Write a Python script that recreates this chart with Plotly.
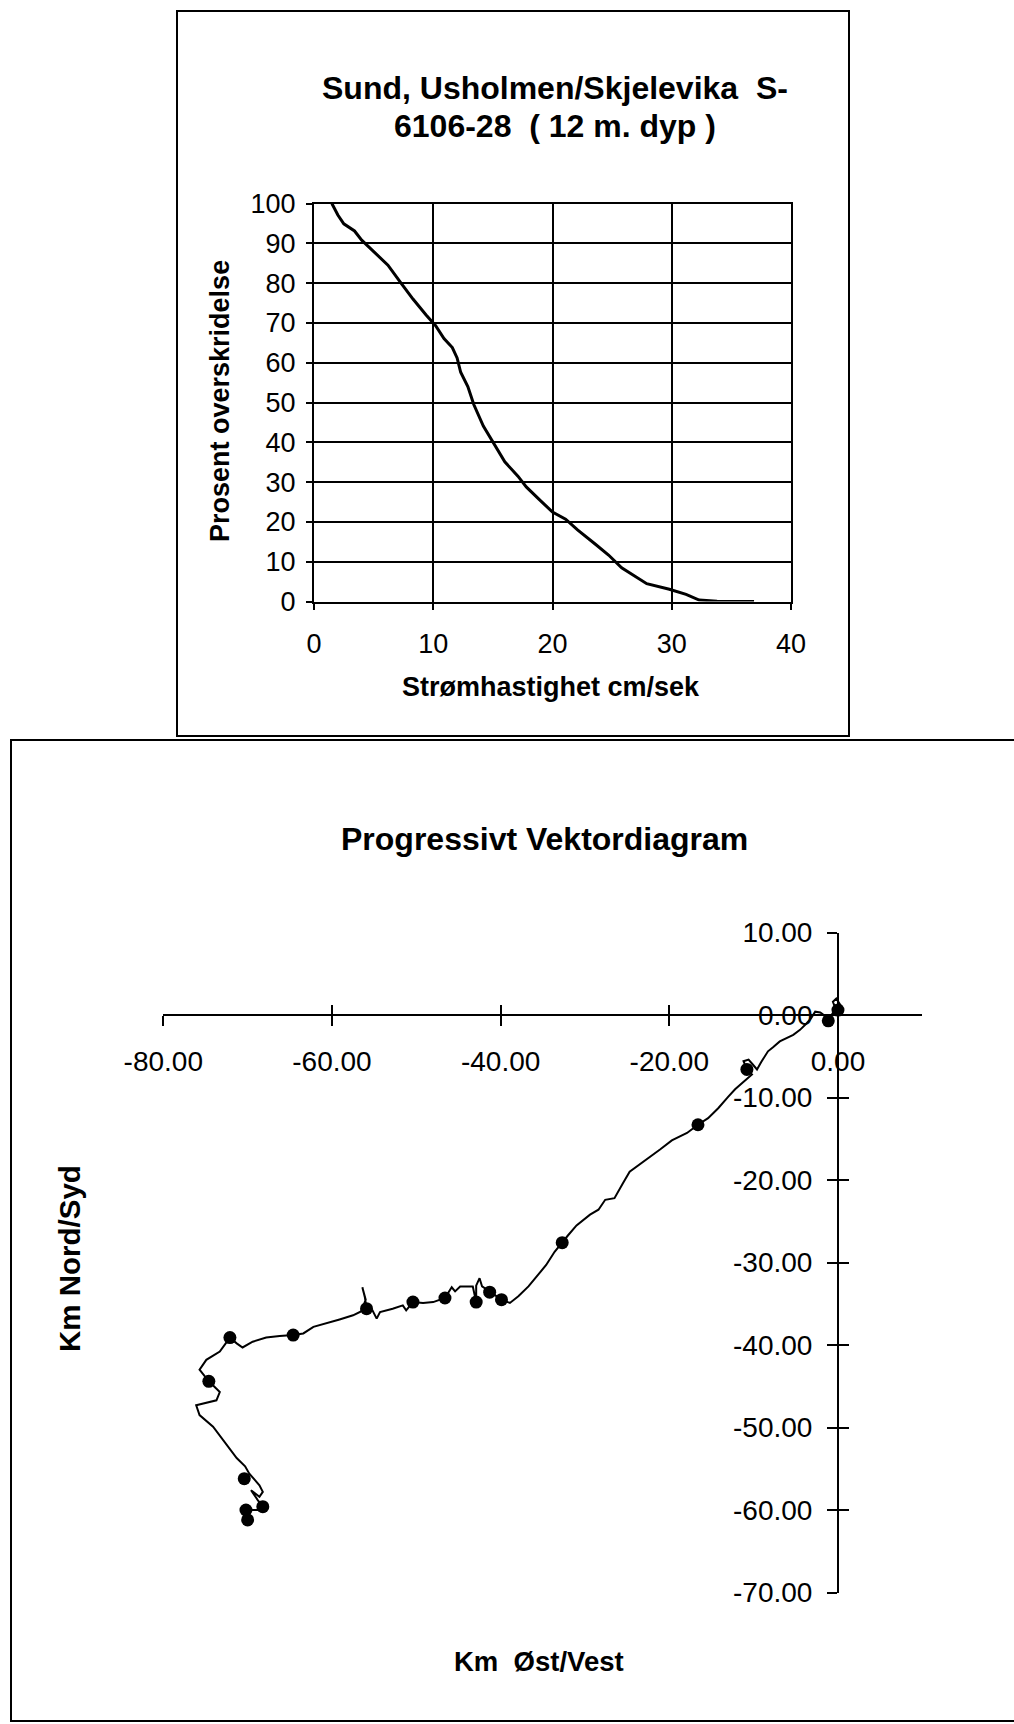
import plotly.graph_objects as go

# --- Exceedance curve: current speed vs. percent of time exceeded ---
speed_cm_s = [1.5, 2.0, 2.5, 3.4, 4.0, 5.1, 6.2, 7.3, 8.3, 9.4, 10.2, 10.9, 11.6, 12.0,
              12.3, 12.9, 13.4, 14.2, 14.9, 16.0, 17.1, 17.8, 18.9, 20.0, 21.1, 22.1,
              23.6, 24.7, 25.8, 26.9, 27.9, 29.8, 31.2, 32.3, 33.8, 36.9]
exceedance_pct = [100, 97.1, 94.9, 93.1, 90.8, 87.7, 84.5, 80.0, 76.0, 72.0, 69.3, 66.1,
                  63.8, 61.2, 57.6, 54.0, 49.5, 44.1, 40.5, 35.1, 31.5, 28.8, 25.6, 22.5,
                  20.7, 18.0, 14.4, 11.7, 8.5, 6.3, 4.5, 3.1, 1.8, 0.4, 0.1, 0.0]
speed_ticks = [0, 10, 20, 30, 40]
pct_ticks = [0, 10, 20, 30, 40, 50, 60, 70, 80, 90, 100]

# --- Progressive vector diagram (km east/west, km north/south) ---
pvd_east_km = [0.0, 0.3, -0.2, -0.6, -0.3, -1.1, -1.8, -2.1, -2.7, -3.2, -3.7, -4.5, -5.3,
               -6.1, -6.9, -7.7, -8.3, -9.1, -9.6, -10.1, -10.6, -11.2, -10.8, -10.2,
               -11.6, -12.2, -13.0, -14.2, -15.4, -16.6, -17.9, -19.7, -21.1, -23.1,
               -24.7, -25.5, -26.5, -27.6, -28.4, -29.4, -31.0, -32.0, -32.7, -33.6,
               -34.6, -35.7, -36.7, -37.9, -38.9, -39.9, -40.6, -41.3, -42.2, -42.5,
               -42.9, -42.9, -43.3, -43.9, -44.8, -45.4, -45.8, -46.6, -48.0, -49.2,
               -50.4, -51.2, -51.6, -52.8, -54.3, -54.7, -55.2, -55.9, -56.1, -56.4,
               -56.0, -56.5, -57.5, -59.1, -60.7, -62.2, -63.4, -64.6, -66.2, -67.8,
               -69.4, -70.6, -71.3, -72.1, -73.3, -74.9, -75.7, -74.6, -73.3, -73.7,
               -76.1, -75.7, -74.1, -72.9, -71.3, -70.3, -69.8, -68.6, -68.2, -68.6,
               -69.6, -68.8, -68.2, -68.6, -70.2, -70.0]
pvd_north_km = [0.0, 1.2, 2.0, 1.6, 0.8, -0.6, 0.1, 0.3, 0.4, -0.4, -1.0, -1.8, -2.4,
                -2.8, -3.2, -3.9, -4.4, -5.7, -6.6, -6.0, -5.4, -5.6, -6.6, -7.2,
                -8.5, -9.0, -9.9, -11.3, -12.5, -13.3, -14.3, -15.2, -16.3, -17.8,
                -19.0, -20.4, -22.2, -22.4, -23.6, -24.2, -25.5, -26.7, -27.6, -28.7,
                -30.3, -31.7, -32.9, -34.1, -34.9, -34.5, -34.0, -33.6, -32.9, -31.9,
                -32.8, -34.8, -32.9, -32.9, -32.9, -33.5, -33.0, -34.3, -34.8, -34.9,
                -34.8, -35.8, -35.2, -35.6, -36.0, -36.8, -35.8, -35.6, -34.2, -33.0,
                -34.5, -35.9, -36.4, -36.9, -37.4, -37.8, -38.6, -38.8, -38.9, -39.1,
                -39.6, -40.3, -39.8, -39.1, -40.8, -41.8, -43.0, -44.4, -45.7, -46.7,
                -47.3, -48.5, -49.9, -51.5, -53.7, -54.7, -55.6, -57.0, -57.8, -58.4,
                -57.6, -58.8, -59.6, -60.0, -60.0, -61.2]
# daily positions marked along the track
day_east_km = [0.0, -1.15, -10.8, -16.6, -32.7, -39.9, -41.3, -42.9, -46.6, -50.4,
               -55.9, -64.6, -72.1, -74.6, -70.4, -68.2, -70.2, -70.0]
day_north_km = [0.6, -0.7, -6.6, -13.3, -27.6, -34.5, -33.6, -34.8, -34.3, -34.8,
                -35.6, -38.8, -39.1, -44.4, -56.2, -59.6, -60.0, -61.2]
east_ticks = [-80, -60, -40, -20, 0]
east_labels = ["-80.00", "-60.00", "-40.00", "-20.00", "0.00"]
north_ticks = [10, 0, -10, -20, -30, -40, -50, -60, -70]
north_labels = ["10.00", "0.00", "-10.00", "-20.00", "-30.00", "-40.00",
                "-50.00", "-60.00", "-70.00"]

W, H = 1014, 1724
FONT = "Liberation Sans, Arial, sans-serif"


def px_x(v):
    return v / W


def px_y(v):
    return 1 - v / H


fig = go.Figure()

fig.add_trace(go.Scatter(x=speed_cm_s, y=exceedance_pct, mode="lines",
                         line=dict(color="black", width=3),
                         xaxis="x", yaxis="y", showlegend=False, hoverinfo="skip"))

fig.add_trace(go.Scatter(x=pvd_east_km, y=pvd_north_km, mode="lines",
                         line=dict(color="black", width=2),
                         xaxis="x2", yaxis="y2", showlegend=False, hoverinfo="skip"))
fig.add_trace(go.Scatter(x=day_east_km, y=day_north_km, mode="markers",
                         marker=dict(color="black", size=13),
                         xaxis="x2", yaxis="y2", showlegend=False, hoverinfo="skip"))
# carrier for the overlay axes that give the crossing tick marks
fig.add_trace(go.Scatter(x=[None], y=[None], xaxis="x3", yaxis="y3",
                         showlegend=False, hoverinfo="skip"))

# bottom chart geometry
x2_dom = [px_x(163.3), px_x(922.3)]
x2_rng = [-80, 10]
y2_dom = [px_y(1592.5), px_y(932.5)]
y2_rng = [-70, 10]
x_axis_pos = y2_dom[0] + (0 - y2_rng[0]) / (y2_rng[1] - y2_rng[0]) * (y2_dom[1] - y2_dom[0])
y_axis_pos = x2_dom[0] + (0 - x2_rng[0]) / (x2_rng[1] - x2_rng[0]) * (x2_dom[1] - x2_dom[0])

top_tick_font = dict(family=FONT, size=27, color="black")
pvd_tick_font = dict(family=FONT, size=28, color="black")
grid_axis = dict(showgrid=True, gridcolor="black", gridwidth=1.6, showline=True,
                 linecolor="black", linewidth=2, mirror=True, ticks="outside",
                 ticklen=6, tickwidth=1.5, tickcolor="black", zeroline=False,
                 tickfont=top_tick_font, automargin=False)
cross_axis = dict(tickcolor="black", tickwidth=1.5, ticklen=10, showgrid=False,
                  zeroline=False, automargin=False)

fig.update_layout(
    width=W, height=H, autosize=False,
    margin=dict(l=0, r=0, t=0, b=0, pad=0),
    paper_bgcolor="white", plot_bgcolor="white",
    xaxis=dict(domain=[px_x(314), px_x(791)], range=[0, 40], tickvals=speed_ticks,
               anchor="y", ticklabelstandoff=11, **grid_axis),
    yaxis=dict(domain=[px_y(601.6), px_y(203.5)], range=[0, 100], tickvals=pct_ticks,
               anchor="x", ticklabelstandoff=5, **grid_axis),
    xaxis2=dict(domain=x2_dom, range=x2_rng, anchor="free", position=x_axis_pos,
                tickvals=east_ticks, ticktext=east_labels, ticks="outside",
                showline=True, linecolor="black", linewidth=1.8,
                tickfont=pvd_tick_font, ticklabelstandoff=11, **cross_axis),
    yaxis2=dict(domain=y2_dom, range=y2_rng, anchor="free", position=y_axis_pos,
                tickvals=north_ticks, ticktext=north_labels, ticks="outside",
                showline=True, linecolor="black", linewidth=1.8,
                tickfont=pvd_tick_font, ticklabelstandoff=9, **cross_axis),
    xaxis3=dict(overlaying="x2", range=x2_rng, anchor="free", position=x_axis_pos,
                tickvals=east_ticks, ticks="inside", showticklabels=False,
                showline=False, **cross_axis),
    yaxis3=dict(overlaying="y2", range=y2_rng, anchor="free", position=y_axis_pos,
                tickvals=north_ticks, ticks="inside", showticklabels=False,
                showline=False, **cross_axis),
)

# frames around the two charts
fig.add_shape(type="rect", xref="paper", yref="paper",
              x0=px_x(177), x1=px_x(849), y0=px_y(736), y1=px_y(11),
              line=dict(color="black", width=2), layer="below")
fig.add_shape(type="rect", xref="paper", yref="paper",
              x0=px_x(11), x1=px_x(1030), y0=px_y(1721), y1=px_y(740),
              line=dict(color="black", width=2), layer="below")


def label(text, x, y, size, bold=True, angle=0):
    fig.add_annotation(text=f"<b>{text}</b>" if bold else text,
                       xref="paper", yref="paper", x=px_x(x), y=px_y(y),
                       xanchor="center", yanchor="middle", showarrow=False,
                       textangle=angle, font=dict(family=FONT, size=size, color="black"))


label("Sund, Usholmen/Skjelevika  S-", 555, 88, 32)
label("6106-28  ( 12 m. dyp )", 555, 126, 32)
label("Prosent overskridelse", 220, 401, 27, angle=-90)
label("Strømhastighet cm/sek", 551, 687, 27)

label("Progressivt Vektordiagram", 544, 839, 32)
label("Km Nord/Syd", 69, 1259, 29.5, angle=-90)
label("Km  Øst/Vest", 539, 1661, 27.5)

fig.write_html("out.html")
